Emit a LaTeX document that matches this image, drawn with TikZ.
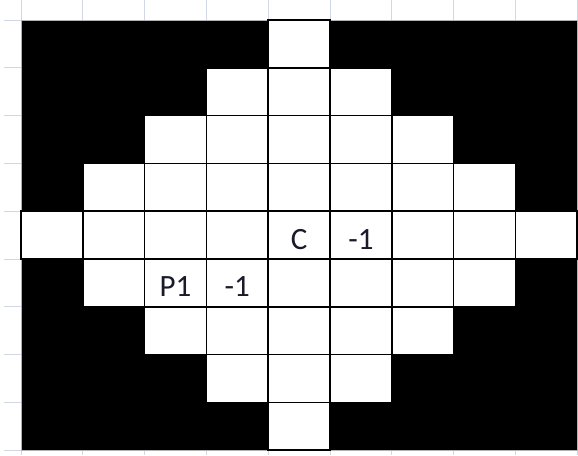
\documentclass[tikz,border=0pt]{standalone}
\usepackage{fontspec}
\setmainfont{Carlito}
\definecolor{sheetgrid}{HTML}{D0D7E5}
\definecolor{inkblue}{HTML}{1A1A2A}

\begin{document}
\begin{tikzpicture}[x=1pt,y=-1pt,
  tick/.style={sheetgrid,line width=1pt},
  cellbox/.style={fill=white,draw=black,line width=1.6pt},
  lbl/.style={font=\fontsize{31}{34}\selectfont,text=inkblue,inner sep=0pt}]
\useasboundingbox (0,0) rectangle (578,455);
% spreadsheet grid ticks in the margins
\foreach \i in {0,...,9}
  \draw[tick] (21+\i*61.8,0) -- (21+\i*61.8,20)
              (21+\i*61.8,450) -- (21+\i*61.8,455);
\foreach \j in {0,...,9}
  \draw[tick] (4,20+\j*47.8) -- (21,20+\j*47.8);
% black background
\fill[black] (21,20) rectangle (577,450);
\draw[gray!60,line width=0.8pt] (21,20) rectangle (577,450);
% white diamond of cells
\foreach \r in {0,...,8}
  \foreach \c in {0,...,8}{
    \pgfmathtruncatemacro\dist{abs(\r-4)+abs(\c-4)}
    \ifnum\dist<5
      \draw[cellbox] (21+\c*61.8,20+\r*47.8) rectangle ++(61.8,47.8);
    \fi
  }
% labels
\node[lbl] (C)  at (21+4.5*61.8,20+4.5*47.8+4) {C};
\node[lbl] (cm) at (21+5.5*61.8,20+4.5*47.8+4) {-1};
\node[lbl] (P1) at (21+2.5*61.8,20+5.5*47.8+4) {P1};
\node[lbl] (pm) at (21+3.5*61.8,20+5.5*47.8+4) {-1};
\end{tikzpicture}
\end{document}
